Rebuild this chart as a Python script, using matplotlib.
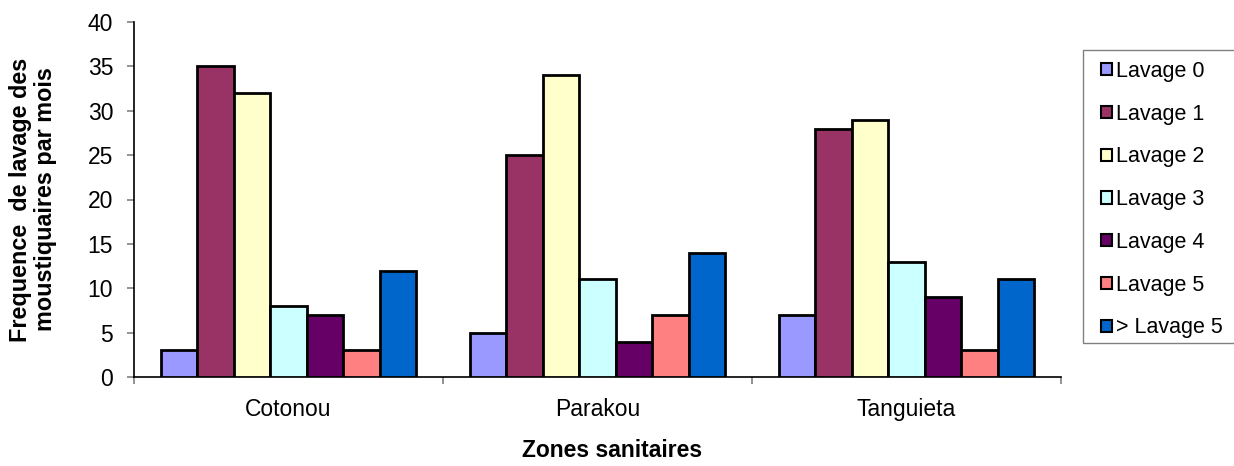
import matplotlib
matplotlib.use("Agg")
import matplotlib.pyplot as plt
import numpy as np
from matplotlib.patches import Patch, Rectangle

plt.rcParams.update({
    "font.family": ["Liberation Sans", "DejaVu Sans"],
    "font.size": 16.5,
})

zones = ["Cotonou", "Parakou", "Tanguieta"]
series_labels = ["Lavage 0", "Lavage 1", "Lavage 2", "Lavage 3",
                 "Lavage 4", "Lavage 5", "> Lavage 5"]
lavage_0 = [3, 5, 7]
lavage_1 = [35, 25, 28]
lavage_2 = [32, 34, 29]
lavage_3 = [8, 11, 13]
lavage_4 = [7, 4, 9]
lavage_5 = [3, 7, 3]
lavage_gt5 = [12, 14, 11]
series = [lavage_0, lavage_1, lavage_2, lavage_3, lavage_4, lavage_5, lavage_gt5]
colors = ["#9999FF", "#993366", "#FFFFCC", "#CCFFFF", "#660066", "#FF8080", "#0066CC"]

W, H = 1234, 466
fig = plt.figure(figsize=(W / 100, H / 100), dpi=100)
ax = fig.add_axes([134 / W, 89 / H, 927 / W, 355 / H])

x = np.arange(len(zones))
width = 0.118
n = len(series)
for i, (vals, col) in enumerate(zip(series, colors)):
    offs = (i - (n - 1) / 2) * width
    ax.bar(x + offs, vals, width, color=col, edgecolor="black", linewidth=2,
           label=series_labels[i], zorder=3)

ax.set_xlim(-0.5, len(zones) - 0.5)
ax.set_ylim(0, 40)
ax.set_yticks(range(0, 41, 5))
ax.set_xticks(x)
ax.set_xticklabels(zones)
ax.set_xticks(np.arange(-0.5, len(zones), 1), minor=True)
ax.tick_params(axis="x", which="major", length=0, pad=15)
ax.tick_params(axis="x", which="minor", length=5, color="#808080", width=1.2)
ax.tick_params(axis="y", length=5, color="#808080", width=1.2, pad=10)

for s in ["top", "right"]:
    ax.spines[s].set_visible(False)
ax.spines["left"].set_color("black")
ax.spines["bottom"].set_color("black")
ax.spines["left"].set_linewidth(1.2)
ax.spines["bottom"].set_linewidth(1.2)

ax.set_ylabel("Frequence  de lavage des\nmoustiquaires par mois",
              fontweight="bold", fontsize=16.8, labelpad=22, linespacing=1.1)
ax.set_xlabel("Zones sanitaires", fontweight="bold", fontsize=16.5)
ax.xaxis.set_label_coords((612 - 134) / 927, (27 - 89) / 355)

# legend frame drawn separately so the padding can match
fig.patches.append(Rectangle((1083 / W, 1 - 343 / H), 170 / W, 293 / H,
                             transform=fig.transFigure, facecolor="white",
                             edgecolor="#808080", linewidth=1.0))
handles = [Patch(facecolor=c, edgecolor="black", linewidth=1.5) for c in colors]
leg = fig.legend(handles, series_labels, loc="upper left",
                 bbox_to_anchor=(1101 / W, 1 - 61 / H),
                 frameon=False, fontsize=15.5,
                 handlelength=0.5, handleheight=0.5, handletextpad=0.2,
                 labelspacing=1.01, borderpad=0, borderaxespad=0)

fig.savefig("out.png", dpi=100)
